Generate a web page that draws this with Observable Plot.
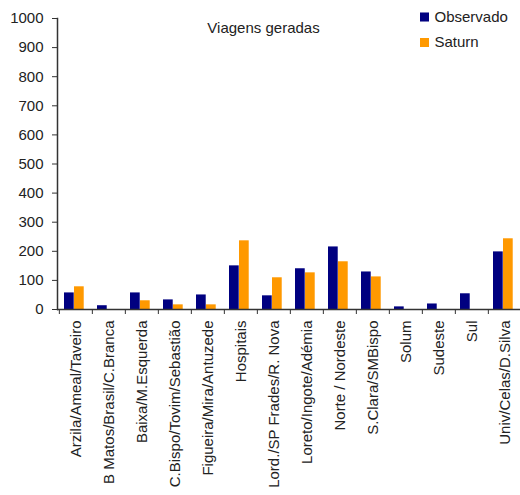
<!DOCTYPE html>
<html><head><meta charset="utf-8">
<script src="https://cdn.jsdelivr.net/npm/d3@7"></script>
<script src="https://cdn.jsdelivr.net/npm/@observablehq/plot@0.6"></script>
<style>body{margin:0;background:#fff}</style>
</head><body><div id="chart"></div>
<script>
const categories = ["Arzila/Ameal/Taveiro","B Matos/Brasil/C.Branca","Baixa/M.Esquerda","C.Bispo/Tovim/Sebastião","Figueira/Mira/Antuzede","Hospitais","Lord./SP Frades/R. Nova","Loreto/Ingote/Adémia","Norte / Nordeste","S.Clara/SMBispo","Solum","Sudeste","Sul","Univ/Celas/D.Silva"];
const observado = [57,13,57,33,50,150,47,140,215,129,9,19,54,198];
const saturn = [78,0,30,16,16,236,109,126,164,112,0,0,0,243];
const series = ["Observado","Saturn"];
const colors = ["#000080","#FF9900"];
const yTicks = [0,100,200,300,400,500,600,700,800,900,1000];
const title = "Viagens geradas";

const x0 = 57, x1 = 523;
const step = (x1 - x0) / categories.length;
const rowsObs = categories.map((c,i)=>({cat:c, series:series[0], value:observado[i]}));
const rowsSat = categories.map((c,i)=>({cat:c, series:series[1], value:saturn[i]}));
const ink = "#222";

const chart = Plot.plot({
  width: 520, height: 495,
  marginLeft: 57, marginRight: 0, marginTop: 18, marginBottom: 186,
  style: {fontFamily: "'Liberation Sans', Arial, sans-serif", fontSize: "15px", color: ink, background: "#fff"},
  x: {type: "band", domain: categories, range: [x0, x1], padding: 0, label: null},
  y: {domain: [0, 1000], label: null},
  marks: [
    Plot.barY(rowsObs, {x: "cat", y: "value", fill: colors[0], insetLeft: 5, insetRight: step - 15}),
    Plot.barY(rowsSat, {x: "cat", y: "value", fill: colors[1], insetLeft: 15, insetRight: step - 25}),
    Plot.ruleY([0], {stroke: "#333", strokeWidth: 1.5}),
    Plot.frame({anchor: "left", stroke: "#333", strokeWidth: 1.5}),
    Plot.axisY({ticks: yTicks, tickFormat: d => String(d), tickSize: 5, tickPadding: 9, stroke: "#333", fill: ink, fontSize: 15}),
    Plot.axisX({tickSize: 5, tickFormat: () => "", dx: -step/2, stroke: "#333"}),
    Plot.axisX({tickSize: 0, tickRotate: -90, tickPadding: 11, fill: ink, fontSize: 15}),
    Plot.text([title], {text: d => d, frameAnchor: "top-left", dx: 206, dy: 10, lineAnchor: "middle", textAnchor: "middle", fill: ink, fontSize: 15}),
    ...series.map((s, i) => Plot.dot([s], {frameAnchor: "top-left", dx: 367, dy: -1.5 + i * 25.5, symbol: "square", r: 5.1, fill: colors[i], stroke: null})),
    ...series.map((s, i) => Plot.text([s], {text: d => d, frameAnchor: "top-left", dx: 377, dy: -1.5 + i * 25.5, lineAnchor: "middle", textAnchor: "start", fill: ink, fontSize: 15}))
  ]
});
document.getElementById("chart").appendChild(chart);
</script>
</body></html>
